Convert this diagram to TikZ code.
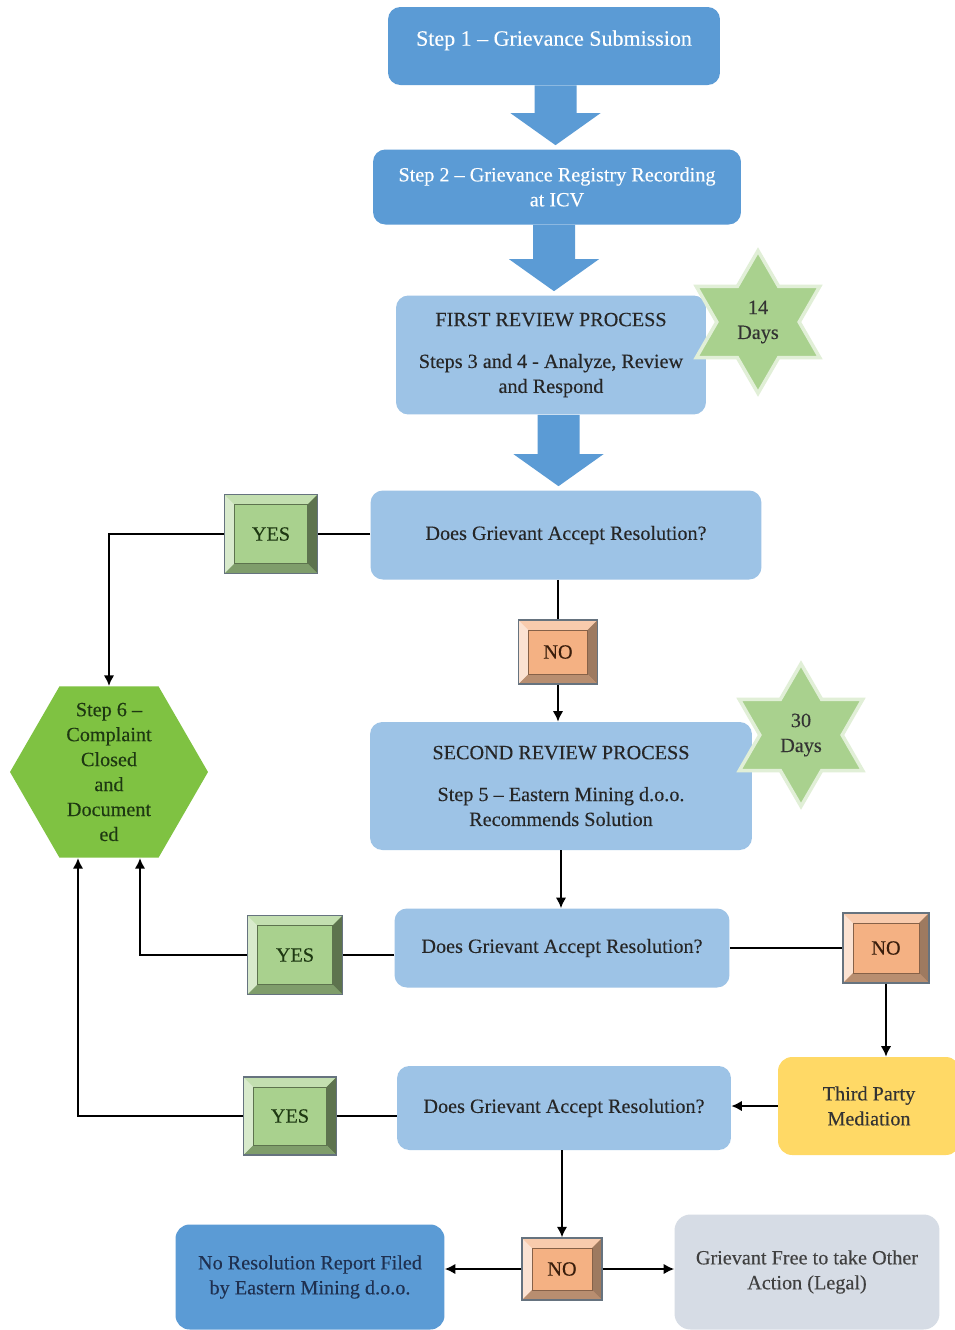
\documentclass[tikz,border=0pt]{standalone}
\usepackage{fontspec}
\setmainfont{Liberation Serif}[FakeBold=0.25]
\usepackage{tikz}
\usetikzlibrary{shapes.geometric,calc,arrows.meta}

\definecolor{stepblue}{HTML}{5B9BD5}
\definecolor{reviewblue}{HTML}{9DC3E6}
\definecolor{stargreen}{HTML}{A9D18E}
\definecolor{hexgreen}{HTML}{7FC242}
\definecolor{hexdark}{HTML}{1E3812}
\definecolor{mediation}{HTML}{FFD966}
\definecolor{legalgrey}{HTML}{D6DCE5}
\definecolor{reportnavy}{HTML}{1F3050}
\definecolor{bevelline}{HTML}{66737F}
\definecolor{noface}{HTML}{F4B183}
\definecolor{notop}{HTML}{F8CBAD}
\definecolor{noleft}{HTML}{FBE2D2}
\definecolor{noright}{HTML}{9E7A60}
\definecolor{nobottom}{HTML}{B88E70}
\definecolor{notext}{HTML}{3A1E0C}

\newcommand\ppb{path picture bounding box}
\newcommand\bevw{5.6pt}

\tikzset{
	txt/.style={font=\fontsize{11.5}{14.2}\selectfont, align=center},
	stepbox/.style={txt, rectangle, rounded corners=7pt, fill=stepblue, text=white},
	reviewbox/.style={txt, rectangle, rounded corners=7pt, fill=reviewblue, text=black!85},
	mediationbox/.style={txt, rectangle, rounded corners=8pt, fill=mediation, text=black!80},
	reportbox/.style={txt, rectangle, rounded corners=8pt, fill=stepblue, text=reportnavy},
	legalbox/.style={txt, rectangle, rounded corners=9pt, fill=legalgrey, text=black!75},
	daystar/.style={txt, star, star points=6, star point ratio=1.73, minimum size=2.85cm, inner sep=0pt,
		fill=stargreen, draw=stargreen!35!white, line width=2pt, text=black!80},
	closedhex/.style={regular polygon, regular polygon sides=6, minimum size=3.96cm, inner sep=0pt, fill=hexgreen},
	bevel/.style n args={5}{txt, rectangle, draw=bevelline, line width=0.8pt, fill=#1,
		path picture={
			\fill[#2] (\ppb.north west) -- (\ppb.north east) -- ([xshift=-\bevw,yshift=-\bevw]\ppb.north east) -- ([xshift=\bevw,yshift=-\bevw]\ppb.north west) -- cycle;
			\fill[#3] (\ppb.north west) -- (\ppb.south west) -- ([xshift=\bevw,yshift=\bevw]\ppb.south west) -- ([xshift=\bevw,yshift=-\bevw]\ppb.north west) -- cycle;
			\fill[#4] (\ppb.north east) -- (\ppb.south east) -- ([xshift=-\bevw,yshift=\bevw]\ppb.south east) -- ([xshift=-\bevw,yshift=-\bevw]\ppb.north east) -- cycle;
			\fill[#5] (\ppb.south west) -- (\ppb.south east) -- ([xshift=-\bevw,yshift=\bevw]\ppb.south east) -- ([xshift=\bevw,yshift=\bevw]\ppb.south west) -- cycle;
			\draw[#1!55!black, line width=0.3pt] ([xshift=\bevw,yshift=-\bevw]\ppb.north west) rectangle ([xshift=-\bevw,yshift=\bevw]\ppb.south east);
		}},
	yesbox/.style={bevel={stargreen}{stargreen!70!white}{stargreen!45!white}{stargreen!55!black}{stargreen!75!black}, text=hexdark},
	nobox/.style={bevel={noface}{notop}{noleft}{noright}{nobottom}, text=notext},
	link/.style={line width=1.1pt, black},
	arr/.style={link, -{Latex[length=6pt,width=6pt]}},
}

\begin{document}
\begin{tikzpicture}[x=0.02cm, y=-0.02cm]
	\useasboundingbox[fill=white] (0,0) rectangle (955,1330);
	\begin{scope}
		\node[stepbox, font=\fontsize{12.5}{14.5}\selectfont, text depth=9pt, minimum width=6.64cm, minimum height=1.56cm] (s1) at (554,46) {Step 1 -- Grievance Submission};
		\node[stepbox, minimum width=7.36cm, minimum height=1.5cm] (s2) at (557,187) {Step 2 -- Grievance Registry Recording\\at ICV};
		\node[reviewbox, minimum width=6.2cm, minimum height=2.38cm] (rev1) at (551,355) {FIRST REVIEW PROCESS\\[9.6pt]Steps 3 and 4 - Analyze, Review\\and Respond};
		\node[daystar] (star1) at (758,322) {14\\Days};
		\node[reviewbox, minimum width=7.82cm, minimum height=1.78cm] (q1) at (566,535) {Does Grievant Accept Resolution?};

		% frecce grandi
		\foreach \a/\b in {s1/s2, s2/rev1, rev1/q1} {
			\coordinate (m) at ($(\a.south)!0.5!(\b.north)$);
			\fill[stepblue] ($(m |- \a.south)+(-21,0)$) -- ($(m |- \a.south)+(21,0)$) -- ($(m |- \b.north)+(21,-36)$) -- ($(m |- \b.north)+(45,-36)$)
				-- ($(m |- \b.north)+(0,-4)$) -- ($(m |- \b.north)+(-45,-36)$) -- ($(m |- \b.north)+(-21,-36)$) -- cycle;
		}

		\node[yesbox, minimum width=1.86cm, minimum height=1.58cm] (yes1) at (271,534) {YES};
		\node[nobox, minimum width=1.58cm, minimum height=1.28cm] (no1) at (558,652) {NO};
		\node[closedhex] (closed) at (109,772) {};
		\node[txt, text=hexdark] (closedtxt) at (closed) {Step 6 --\\Complaint\\Closed\\and\\Document\\ed};
		\node[reviewbox, minimum width=7.64cm, minimum height=2.56cm] (rev2) at (561,786) {SECOND REVIEW PROCESS\\[9.6pt]Step 5 -- Eastern Mining d.o.o.\\Recommends Solution};
		\node[daystar] (star2) at (801,735) {30\\Days};

		\node[reviewbox, minimum width=6.7cm, minimum height=1.58cm] (q2) at (562,948) {Does Grievant Accept Resolution?};
		\node[yesbox, minimum width=1.9cm, minimum height=1.58cm] (yes2) at (295,955) {YES};
		\node[nobox, minimum width=1.72cm, minimum height=1.4cm] (no2) at (886,948) {NO};
		\node[mediationbox, minimum width=3.64cm, minimum height=1.96cm] (third) at (869,1106) {Third Party\\Mediation};
		\node[reviewbox, minimum width=6.68cm, minimum height=1.68cm] (q3) at (564,1108) {Does Grievant Accept Resolution?};
		\node[yesbox, minimum width=1.86cm, minimum height=1.56cm] (yes3) at (290,1116) {YES};
		\node[nobox, minimum width=1.6cm, minimum height=1.24cm] (no3) at (562,1269) {NO};
		\node[reportbox, minimum width=5.38cm, minimum height=2.1cm] (nores) at (310,1277) {No Resolution Report Filed\\by Eastern Mining d.o.o.};
		\node[legalbox, minimum width=5.3cm, minimum height=2.3cm] (legal) at (807,1272) {Grievant Free to take Other\\Action (Legal)};

		\draw[link] (q1.west |- yes1) -- (yes1.east); % q1 - yes
		\draw[arr] (yes1.west) -| (closed.north); % yes - chiuso
		\draw[link] (no1.north |- q1.south) -- (no1.north); % q1 - no
		\draw[arr] (no1.south) -- (no1.south |- rev2.north); % no - secondo
		\draw[arr] (rev2.south) -- (rev2.south |- q2.north);
		\draw[link] (q2.west |- yes2) -- (yes2.east);
		\draw[arr] (yes2.west) -| ($(closed.south)+(31,0)$);
		\draw[link] (q2.east) -- (q2.east -| no2.west);
		\draw[arr] (no2.south) -- (no2.south |- third.north); % no - mediazione
		\draw[arr] (third.west) -- (third.west -| q3.east);
		\draw[link] (q3.west |- yes3) -- (yes3.east);
		\draw[arr] (yes3.west) -| ($(closed.south)+(-31,0)$);
		\draw[arr] (no3.north |- q3.south) -- (no3.north);
		\draw[arr] (no3.west) -- (no3.west -| nores.east);
		\draw[arr] (no3.east) -- (no3.east -| legal.west);
	\end{scope}
\end{tikzpicture}
\end{document}
